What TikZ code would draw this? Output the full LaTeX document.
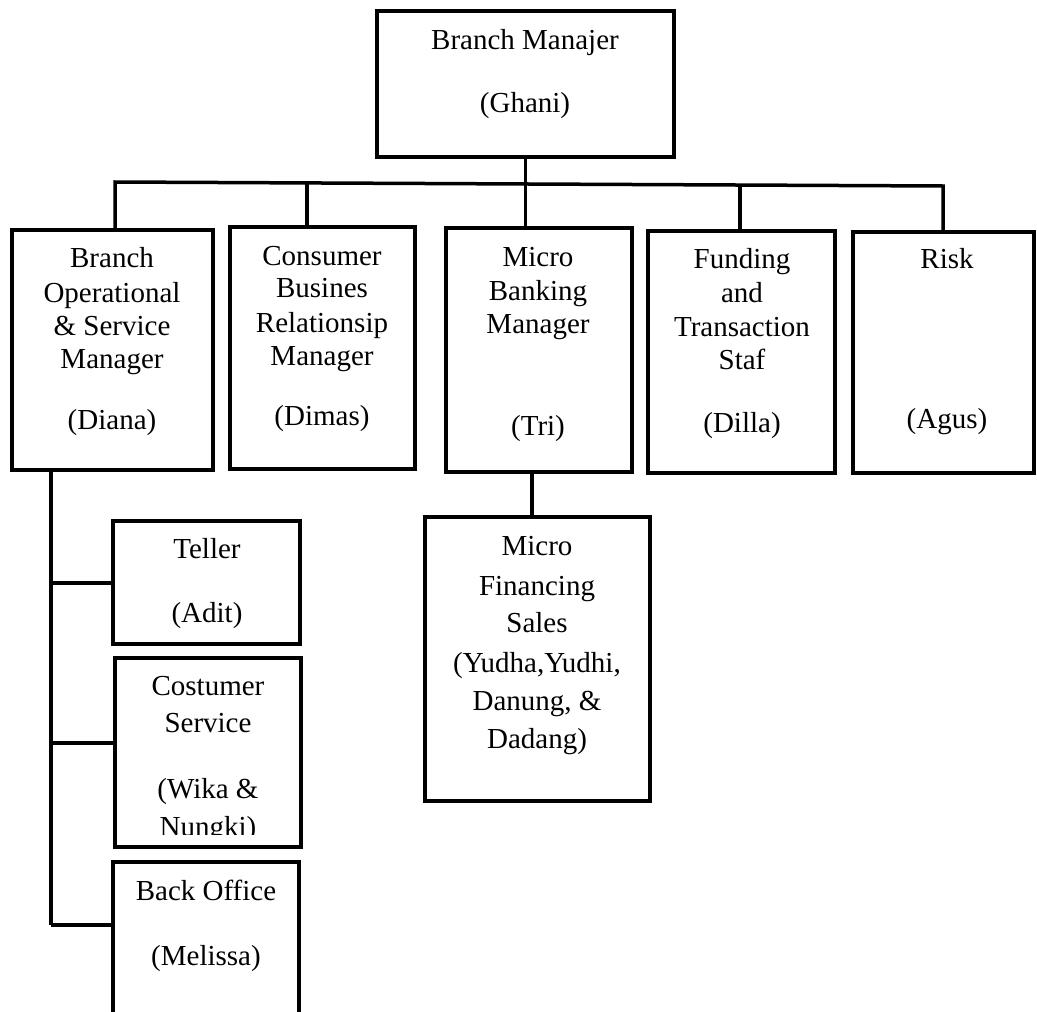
\documentclass[tikz,border=0pt]{standalone}
\usepackage{fontspec}
\setmainfont{Liberation Serif}
\begin{document}
\begin{tikzpicture}[x=1pt,y=-1pt,
  orgbox/.style={draw, line width=3.5pt, rectangle, inner sep=0pt},
  wire/.style={line width=3.5pt},
  txt/.style={font=\fontsize{29}{34}\selectfont, anchor=base, inner sep=0pt}]
\useasboundingbox (0,0) rectangle (1037,1012);
\clip (0,0) rectangle (1037,1012);
% boxes
\node[orgbox, minimum width=297pt, minimum height=146pt] (top) at (525.5,84) {};
\node[orgbox, minimum width=201pt, minimum height=240pt] (b1) at (112.5,350) {};
\node[orgbox, minimum width=185pt, minimum height=242pt] (b2) at (322.5,348) {};
\node[orgbox, minimum width=186pt, minimum height=244pt] (b3) at (539,350) {};
\node[orgbox, minimum width=187pt, minimum height=242pt] (b4) at (741.5,352) {};
\node[orgbox, minimum width=181pt, minimum height=241pt] (b5) at (943.5,352.5) {};
\node[orgbox, minimum width=187pt, minimum height=123pt] (teller) at (206.5,582.5) {};
\node[orgbox, minimum width=186pt, minimum height=189pt] (cs) at (208,752.5) {};
\node[orgbox, minimum width=186pt, minimum height=178pt] (bo) at (206,951) {};
\node[orgbox, minimum width=225pt, minimum height=284pt] (mf) at (537.5,659) {};
% connectors
\coordinate (busL) at (115,182);
\coordinate (busR) at (943,186);
\coordinate (s2) at (307,183.5);
\coordinate (s4) at (740,185);
\draw[wire, line join=miter] (busL |- b1.north) -- (busL) -- (busR) -- (busR |- b5.north);
\draw[wire] (s2) -- (s2 |- b2.north);
\draw[wire] (s4) -- (s4 |- b4.north);
\draw[wire] (top.south) -- (top.south |- b3.north);
\draw[wire] ([xshift=-7pt]b3.south) -- ([xshift=-5.5pt]mf.north);
\coordinate (lv) at (51,470);
\coordinate (j1) at (51,583);
\coordinate (j2) at (51,743);
\coordinate (j3) at (51,925);
\draw[wire] (lv) -- (j3);
\draw[wire] (j1) -- (j1 -| teller.west);
\draw[wire] (j2) -- (j2 -| cs.west);
\draw[wire] (j3) -- (j3 -| bo.west);
% texts
\node[txt] (t0a) at (525,49) {Branch Manajer};
\node[txt] (t0b) at (525,112) {(Ghani)};
\node[txt] (t1a) at (112,267) {Branch};
\node[txt] (t1b) at (112,302) {Operational};
\node[txt] (t1c) at (112,335) {\& Service};
\node[txt] (t1d) at (112,368) {Manager};
\node[txt] (t1e) at (112,429) {(Diana)};
\node[txt] (t2a) at (322,265) {Consumer};
\node[txt] (t2b) at (322,297) {Busines};
\node[txt] (t2c) at (322,332) {Relationsip};
\node[txt] (t2d) at (322,365) {Manager};
\node[txt] (t2e) at (322,425) {(Dimas)};
\node[txt] (t3a) at (538,266) {Micro};
\node[txt] (t3b) at (538,300) {Banking};
\node[txt] (t3c) at (538,333) {Manager};
\node[txt] (t3d) at (538,435) {(Tri)};
\node[txt] (t4a) at (742,268) {Funding};
\node[txt] (t4b) at (742,302) {and};
\node[txt] (t4c) at (742,336) {Transaction};
\node[txt] (t4d) at (742,369) {Staf};
\node[txt] (t4e) at (742,432) {(Dilla)};
\node[txt] (t5a) at (947,268) {Risk};
\node[txt] (t5b) at (947,428) {(Agus)};
\node[txt] (t6a) at (207,558) {Teller};
\node[txt] (t6b) at (207,622) {(Adit)};
\node[txt] (t7a) at (208,695) {Costumer};
\node[txt] (t7b) at (208,732) {Service};
\node[txt] (t7c) at (208,798) {(Wika \&};
\begin{scope}
\clip (115,660) rectangle (301,834);
\node[txt] (t7d) at (208,836) {Nungki)};
\end{scope}
\node[txt] (t8a) at (206,900) {Back Office};
\node[txt] (t8b) at (206,965) {(Melissa)};
\node[txt] (t9a) at (537,555) {Micro};
\node[txt] (t9b) at (537,595) {Financing};
\node[txt] (t9c) at (537,632) {Sales};
\node[txt] (t9d) at (537,672) {(Yudha,Yudhi,};
\node[txt] (t9e) at (537,710) {Danung, \&};
\node[txt] (t9f) at (537,748) {Dadang)};
\end{tikzpicture}
\end{document}
